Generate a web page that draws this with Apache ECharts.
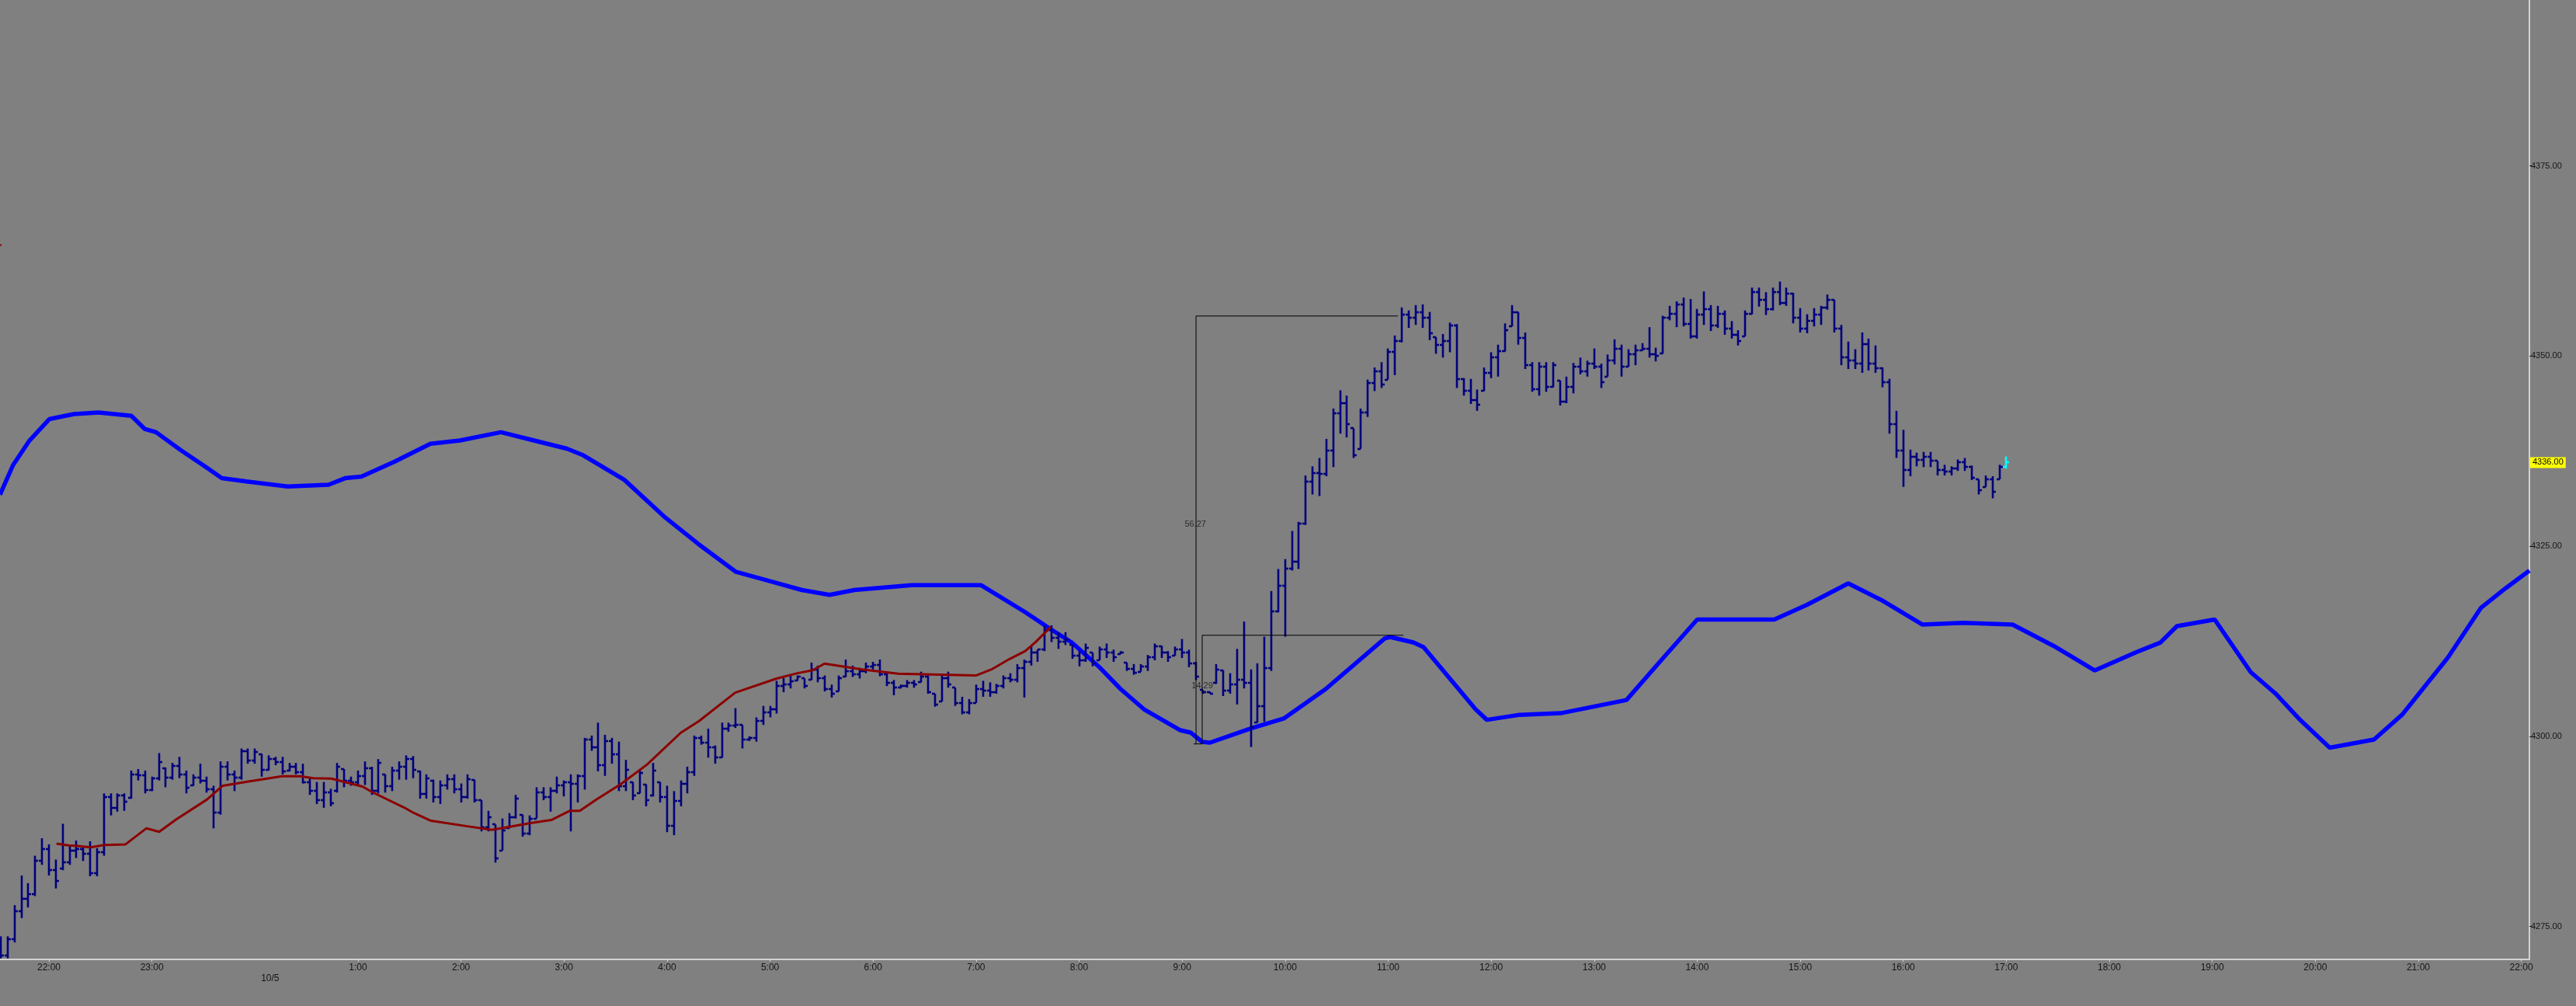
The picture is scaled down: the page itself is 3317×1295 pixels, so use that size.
<!DOCTYPE html>
<html><head><meta charset="utf-8">
<script src="https://cdn.jsdelivr.net/npm/echarts@6.0.0/dist/echarts.min.js"></script>
<style>html,body{margin:0;padding:0;background:#808080;overflow:hidden}#c{width:3317px;height:1295px}</style>
</head><body><div id="c"></div>
<script>
// time in minutes relative to 10/5 00:00 ; first bar 21:32 on 10/4, 4-minute bars
const barStartMin = -148;
const barStepMin = 4;
const opens = [4272.0,4271.2,4273.3,4277.0,4278.6,4279.2,4283.6,4285.2,4282.4,4282.6,
4283.4,4285.0,4285.2,4284.6,4282.0,4284.8,4292.0,4290.6,4292.2,4291.9,
4295.0,4294.9,4292.9,4294.5,4295.8,4294.6,4296.1,4295.0,4293.6,4294.6,
4294.2,4293.0,4290.0,4296.0,4295.0,4294.6,4298.0,4296.8,4297.6,4295.6,
4297.0,4296.6,4295.5,4296.0,4295.3,4294.0,4292.8,4291.6,4292.6,4292.8,
4295.7,4294.2,4294.0,4294.8,4295.8,4292.8,4295.0,4293.4,4295.5,4296.0,
4297.0,4295.4,4292.4,4294.2,4292.0,4293.6,4294.4,4293.0,4292.0,4294.3,
4291.6,4288.0,4288.4,4285.0,4287.9,4289.4,4289.7,4287.2,4289.2,4292.6,
4292.0,4292.8,4293.6,4294.0,4293.8,4294.8,4299.6,4298.6,4296.2,4299.4,
4297.6,4293.4,4294.0,4292.5,4293.7,4292.2,4294.0,4292.0,4288.2,4291.5,
4293.8,4295.3,4299.8,4299.2,4298.6,4297.2,4301.0,4301.4,4301.5,4299.6,
4299.8,4302.0,4303.2,4303.6,4306.6,4306.8,4307.3,4307.6,4307.4,4308.8,
4307.6,4306.2,4305.9,4307.8,4308.6,4308.2,4308.6,4309.2,4309.4,4308.2,
4307.0,4306.4,4306.6,4307.0,4307.1,4307.8,4305.6,4304.6,4307.6,4306.4,
4304.4,4303.2,4304.4,4306.2,4306.0,4305.8,4306.6,4307.6,4307.4,4309.0,
4309.8,4311.0,4311.4,4314.0,4313.0,4312.4,4312.0,4310.6,4310.0,4311.0,
4310.0,4311.4,4311.0,4310.8,4309.7,4308.9,4308.5,4309.2,4310.4,4311.8,
4311.0,4310.6,4311.4,4311.0,4309.6,4306.1,4305.8,4307.0,4308.7,4306.0,
4306.8,4307.4,4307.0,4301.8,4304.0,4309.0,4316.4,4319.8,4322.0,4323.0,
4328.0,4333.5,4334.6,4334.5,4337.6,4342.5,4343.8,4340.5,4337.8,4342.6,
4346.5,4348.0,4346.9,4350.5,4352.0,4355.5,4355.0,4355.8,4355.0,4352.5,
4351.5,4352.0,4354.0,4347.0,4345.4,4344.2,4345.4,4347.8,4349.8,4350.6,
4353.9,4355.8,4352.4,4348.8,4345.6,4348.6,4346.0,4346.8,4344.0,4346.0,
4348.6,4348.0,4349.0,4348.6,4347.3,4349.4,4351.0,4348.6,4350.2,4350.8,
4351.0,4350.2,4350.3,4355.0,4355.6,4356.8,4354.2,4352.6,4355.4,4356.2,
4354.0,4355.6,4353.6,4352.8,4352.6,4355.6,4358.4,4357.4,4356.2,4358.4,
4357.0,4358.2,4355.0,4353.6,4354.6,4355.4,4356.4,4357.4,4353.6,4349.8,
4349.4,4349.0,4351.6,4349.0,4348.4,4346.6,4341.0,4337.6,4335.0,4336.8,
4336.4,4336.8,4336.2,4335.0,4334.8,4335.2,4336.0,4335.4,4333.8,4332.8,
4333.8,4333.8,4335.4];
const highs = [4273.7,4273.7,4277.8,4281.7,4280.7,4284.3,4286.6,4285.8,4283.8,4288.5,
4285.6,4286.3,4285.5,4286.2,4285.3,4292.5,4292.5,4292.5,4292.5,4295.5,
4295.7,4295.5,4294.7,4297.8,4295.9,4296.5,4297.3,4295.5,4295.0,4296.4,
4294.7,4293.5,4296.7,4296.7,4295.5,4298.4,4298.4,4298.4,4297.7,4297.5,
4297.3,4297.3,4296.5,4296.5,4296.4,4294.5,4294.0,4294.0,4293.1,4296.5,
4295.7,4294.7,4295.5,4296.7,4296.0,4297.0,4295.0,4296.0,4296.7,4297.5,
4297.4,4295.5,4295.0,4294.3,4294.2,4295.0,4295.0,4293.8,4295.0,4294.3,
4291.6,4290.2,4288.4,4289.2,4289.9,4292.3,4289.7,4289.6,4293.3,4293.3,
4293.3,4294.7,4294.2,4295.0,4295.0,4299.8,4300.1,4301.8,4300.2,4299.8,
4299.3,4296.9,4294.0,4295.7,4293.7,4296.5,4294.0,4293.5,4292.8,4294.2,
4296.0,4300.1,4300.1,4301.0,4298.8,4301.8,4301.8,4303.7,4301.5,4300.0,
4302.5,4304.0,4304.0,4307.3,4307.7,4308.0,4308.0,4307.6,4309.7,4309.3,
4308.0,4306.8,4308.0,4310.1,4309.3,4309.0,4309.7,4309.8,4310.1,4308.3,
4307.4,4306.8,4307.4,4307.4,4308.5,4308.0,4305.6,4308.0,4308.5,4306.4,
4305.2,4304.9,4306.8,4307.3,4307.1,4306.9,4308.0,4308.3,4309.5,4310.1,
4311.9,4311.4,4314.6,4314.6,4313.7,4313.7,4312.0,4311.2,4312.2,4311.0,
4311.8,4312.2,4311.4,4311.2,4309.7,4309.5,4309.5,4310.7,4312.2,4311.9,
4311.2,4311.8,4312.8,4311.4,4309.8,4306.1,4305.9,4309.5,4308.7,4308.3,
4311.5,4315.1,4308.8,4309.6,4313.1,4319.1,4322.0,4323.3,4327.0,4328.2,
4334.3,4335.5,4336.6,4339.1,4343.1,4345.5,4344.8,4340.5,4343.1,4346.9,
4348.5,4349.2,4351.0,4352.7,4356.4,4356.0,4356.7,4356.8,4355.8,4352.5,
4352.9,4354.4,4354.2,4347.1,4347.0,4345.6,4348.5,4350.5,4351.5,4354.3,
4356.7,4355.8,4353.1,4349.2,4349.2,4349.2,4349.2,4346.8,4347.3,4349.1,
4349.8,4349.4,4351.0,4349.0,4350.2,4352.2,4351.5,4350.9,4351.5,4351.7,
4353.8,4351.1,4355.3,4356.6,4357.2,4357.7,4357.5,4356.2,4358.5,4356.7,
4356.6,4356.0,4354.6,4353.4,4356.0,4359.0,4359.0,4358.4,4359.0,4359.8,
4359.0,4358.3,4356.3,4355.5,4356.3,4356.6,4358.1,4357.4,4354.1,4351.9,
4350.9,4353.1,4352.3,4351.4,4348.5,4347.0,4342.8,4340.3,4337.7,4337.3,
4337.4,4337.4,4336.2,4335.7,4335.5,4336.4,4336.6,4335.6,4333.8,4334.3,
4334.2,4335.7,4336.8];
const lows = [4270.8,4270.8,4272.9,4276.1,4277.5,4279.0,4283.1,4281.7,4280.0,4282.4,
4283.1,4284.0,4283.6,4281.6,4281.6,4284.3,4289.6,4290.1,4290.2,4291.8,
4294.2,4292.5,4292.8,4294.2,4293.3,4294.3,4294.5,4292.5,4293.5,4293.8,
4292.6,4287.9,4289.7,4294.2,4292.8,4294.3,4296.4,4296.4,4294.7,4295.5,
4296.2,4295.0,4295.4,4295.0,4293.8,4292.3,4291.1,4290.6,4290.8,4292.6,
4293.3,4293.5,4293.6,4293.6,4292.3,4292.5,4292.6,4292.8,4294.3,4294.3,
4294.5,4291.8,4291.8,4291.3,4291.1,4293.0,4292.5,4291.3,4291.8,4291.3,
4287.5,4287.5,4283.4,4285.0,4287.9,4289.2,4286.8,4287.0,4289.2,4291.6,
4290.1,4292.5,4292.1,4287.5,4291.3,4293.0,4298.1,4295.4,4294.8,4296.4,
4292.8,4292.8,4291.6,4292.5,4290.8,4292.1,4291.3,4287.4,4287.0,4290.8,
4292.5,4294.8,4298.9,4297.2,4296.4,4297.2,4300.6,4301.1,4298.4,4299.4,
4299.3,4301.5,4302.5,4303.0,4305.8,4306.3,4307.3,4306.3,4307.4,4307.1,
4305.9,4305.1,4305.9,4307.8,4307.8,4307.6,4308.3,4308.8,4307.9,4306.6,
4305.4,4306.3,4306.4,4306.4,4307.1,4305.6,4303.9,4304.6,4306.4,4304.0,
4302.9,4302.9,4304.4,4305.2,4305.2,4305.6,4306.3,4307.1,4307.1,4305.1,
4309.3,4309.8,4311.2,4312.4,4311.5,4312.0,4310.2,4309.2,4309.8,4309.2,
4310.0,4310.3,4309.8,4310.8,4308.6,4308.1,4308.5,4308.6,4310.0,4310.3,
4309.8,4310.6,4310.3,4309.1,4307.4,4305.6,4305.6,4306.9,4305.3,4305.6,
4304.2,4306.3,4298.6,4301.8,4301.9,4308.6,4316.3,4313.1,4321.8,4322.0,
4327.8,4331.8,4331.6,4334.2,4335.4,4339.8,4339.3,4336.6,4337.8,4342.0,
4345.4,4345.8,4346.9,4347.5,4351.8,4353.7,4354.1,4353.7,4352.1,4350.3,
4349.8,4350.5,4345.8,4344.8,4343.7,4342.8,4345.4,4347.1,4347.3,4350.6,
4353.9,4351.5,4348.3,4345.3,4344.8,4345.3,4345.9,4343.5,4343.8,4345.1,
4347.6,4347.3,4348.3,4345.8,4347.3,4348.9,4347.3,4348.6,4348.8,4350.7,
4349.8,4349.3,4350.3,4354.7,4353.8,4353.9,4352.3,4352.3,4354.1,4353.3,
4353.7,4352.8,4352.3,4351.4,4352.6,4355.5,4356.5,4355.4,4356.0,4356.7,
4356.6,4354.3,4353.1,4353.0,4353.9,4354.1,4356.1,4353.1,4348.8,4348.3,
4348.3,4347.8,4348.1,4347.8,4345.9,4339.8,4336.6,4332.8,4334.2,4335.5,
4335.4,4335.4,4334.3,4334.3,4334.3,4334.9,4334.9,4333.7,4331.8,4332.8,
4331.3,4333.8,4335.2];
const closes = [4271.2,4273.3,4277.0,4278.6,4279.2,4283.6,4285.2,4282.4,4281.0,4283.4,
4285.0,4285.2,4284.6,4282.0,4284.8,4292.0,4290.6,4292.2,4291.4,4295.0,
4294.9,4292.9,4294.5,4296.6,4294.6,4296.1,4295.0,4293.2,4294.6,4294.2,
4293.0,4290.0,4296.0,4295.0,4294.6,4298.0,4296.8,4297.9,4295.6,4297.0,
4296.6,4295.4,4296.0,4295.3,4294.0,4292.8,4291.6,4292.6,4291.2,4296.0,
4294.2,4294.0,4294.8,4295.8,4292.8,4296.5,4293.4,4295.5,4296.0,4297.0,
4295.6,4292.4,4294.5,4292.0,4293.6,4294.4,4293.0,4292.0,4294.4,4291.6,
4288.0,4289.4,4284.0,4287.6,4289.4,4291.8,4287.2,4289.2,4292.6,4292.0,
4292.8,4293.6,4294.0,4293.8,4294.8,4299.6,4298.6,4296.2,4299.4,4297.6,
4293.4,4295.6,4292.2,4295.2,4291.6,4295.5,4292.0,4288.2,4291.5,4293.8,
4295.3,4299.8,4299.2,4298.6,4297.2,4301.0,4301.4,4301.5,4299.6,4299.8,
4302.0,4303.2,4303.6,4306.6,4306.8,4307.2,4307.8,4306.6,4308.8,4307.6,
4306.2,4305.6,4307.6,4308.6,4308.2,4308.6,4309.2,4309.4,4308.2,4307.0,
4306.4,4306.6,4307.0,4306.8,4307.8,4305.8,4304.2,4307.6,4306.8,4304.4,
4303.2,4304.4,4306.2,4306.0,4305.8,4306.6,4307.6,4307.4,4309.0,4309.8,
4311.0,4311.4,4314.0,4313.0,4312.4,4312.8,4310.6,4310.0,4311.6,4309.6,
4311.4,4311.0,4310.4,4311.0,4308.9,4308.4,4309.2,4310.4,4311.8,4311.0,
4310.4,4311.4,4311.0,4309.6,4307.8,4305.8,4305.6,4308.8,4306.0,4306.8,
4307.4,4307.0,4301.2,4304.0,4309.0,4316.4,4319.8,4322.0,4323.0,4328.0,
4333.5,4334.6,4334.5,4337.6,4342.5,4343.8,4341.0,4337.0,4342.6,4346.5,
4348.0,4346.3,4350.5,4352.0,4355.5,4355.0,4355.8,4355.0,4353.0,4351.5,
4352.0,4354.0,4347.0,4345.4,4344.2,4343.6,4347.8,4349.8,4350.6,4353.4,
4355.8,4352.4,4348.8,4345.6,4348.6,4346.0,4348.8,4344.0,4346.0,4348.6,
4348.0,4349.0,4348.6,4346.6,4349.4,4351.0,4348.6,4350.2,4350.8,4351.0,
4350.2,4350.0,4355.0,4355.6,4356.8,4354.2,4352.6,4355.4,4356.2,4354.0,
4355.6,4353.6,4352.8,4352.0,4355.6,4358.4,4357.4,4356.2,4358.4,4357.0,
4358.2,4355.0,4353.6,4354.6,4355.4,4356.4,4357.4,4353.6,4349.8,4349.4,
4349.0,4351.6,4349.0,4348.4,4346.6,4341.0,4337.6,4335.0,4336.8,4336.4,
4336.8,4336.2,4335.0,4334.8,4335.2,4336.0,4335.4,4334.0,4332.4,4333.8,
4332.2,4335.4,4336.0];

// thick blue indicator line [minutes, price]
const blueLine = [[-148.5,4331.77],[-140.9,4335.66],[-131.3,4338.90],[-119.8,4341.71],[-105.4,4342.37],
[-91.1,4342.58],[-72.0,4342.15],[-64.3,4340.43],[-57.6,4339.99],[-43.2,4337.62],[-28.9,4335.45],
[-19.3,4333.94],[-5.0,4333.51],[19.0,4332.86],[42.9,4333.08],[52.5,4333.94],[62.0,4334.15],
[81.1,4336.09],[102.2,4338.47],[119.4,4338.90],[143.3,4339.99],[162.5,4338.90],[181.6,4337.83],
[191.2,4336.96],[215.1,4333.73],[239.1,4328.75],[258.2,4325.30],[280.2,4321.62],[301.2,4320.32],
[318.5,4319.24],[334.7,4318.60],[349.1,4319.24],[382.6,4319.89],[401.7,4319.89],[422.8,4319.89],
[448.6,4316.33],[463.5,4314.08],[475.7,4312.35],[492.4,4308.97],[504.2,4306.22],[517.8,4303.56],
[539.0,4300.80],[544.9,4300.50],[551.7,4299.27],[556.2,4299.17],[579.8,4301.01],[599.2,4302.34],
[623.6,4306.22],[658.0,4312.86],[661.2,4313.06],[674.7,4312.35],[680.6,4311.73],[710.9,4303.56],
[717.5,4302.17],[736.6,4302.83],[760.5,4303.04],[798.8,4304.77],[818.0,4309.74],[840.0,4315.36],
[861.1,4315.36],[884.9,4315.36],[904.0,4317.30],[928.0,4320.11],[947.1,4317.94],[971.1,4314.70],
[995.0,4314.92],[1023.7,4314.70],[1047.6,4311.89],[1071.6,4308.66],[1095.5,4311.04],[1109.8,4312.33],
[1119.4,4314.49],[1141.4,4315.36],[1162.4,4308.44],[1176.8,4305.63],[1191.1,4302.17],[1208.4,4298.50],
[1234.2,4299.58],[1250.5,4302.83],[1277.3,4310.38],[1296.4,4316.87],[1310.7,4319.45],[1324.7,4321.8]];

// dark red line [minutes, price]
const redLine = [[-115.6,4285.90],[-108.6,4285.65],[-103.3,4285.58],[-95.7,4285.41],[-88.2,4285.70],
[-75.4,4285.80],[-63.3,4287.90],[-55.8,4287.45],[-46.0,4289.06],[-27.9,4291.70],[-18.8,4293.50],
[-3.8,4294.06],[15.8,4294.75],[26.4,4294.75],[33.9,4294.50],[44.5,4294.44],[62.6,4293.40],
[68.6,4292.63],[86.7,4290.66],[92.7,4289.90],[102.5,4288.90],[122.9,4288.20],[138.0,4287.70],
[160.6,4288.60],[172.6,4289.00],[183.2,4290.20],[189.2,4290.20],[198.3,4291.60],[213.3,4293.75],
[228.4,4296.30],[248.0,4300.47],[258.6,4302.00],[279.7,4305.74],[303.8,4307.60],[315.9,4308.30],
[324.9,4308.70],[331.7,4309.56],[353.6,4308.80],[374.7,4308.23],[419.9,4308.00],[429.0,4308.80],
[439.5,4310.17],[448.6,4311.20],[454.6,4312.38],[463.6,4314.40]];
// tiny dark-red stub at the left edge
const redStub = [[-148.5,4364.6],[-147.6,4364.6]];

// measurement annotation (price range tool)
const measureBase = 4299.0;
const measureTop = 4355.27;
const measureMid = 4313.29;
const measureTimes = [546.7, 548.1, 551.7, 665.7, 668.9];
const measureLabels = [['56.27', 547.7, 4327.87], ['14.29', 551.7, 4306.6]];

const yTickValues = [4275, 4300, 4325, 4350, 4375];
const xHourValues = [-120,-60,0,60,120,180,240,300,360,420,480,540,600,660,720,780,840,900,960,1020,1080,1140,1200,1260,1320];
const dateLabelText = '10/5';
const lastPrice = 4336.00;

const xMin = -148.5, xMax = 1324.7;
const yMin = 4270.67, yMax = 4396.82;

const bars = [];
for (let i = 0; i < highs.length; i++) {
  bars.push([barStartMin + i * barStepMin, opens[i], highs[i], lows[i], closes[i]]);
}
const lastIdx = bars.length - 1;

const chart = echarts.init(document.getElementById('c'), null, {renderer: 'canvas'});

function renderBar(params, api) {
  const t = api.value(0);
  const pO = api.coord([t, api.value(1)]);
  const pH = api.coord([t, api.value(2)]);
  const pL = api.coord([t, api.value(3)]);
  const pC = api.coord([t, api.value(4)]);
  const x = Math.round(pH[0]);
  const color = params.dataIndex === lastIdx ? '#00ffff' : '#00007f';
  let y1 = pH[1], y2 = pL[1];
  if (y2 - y1 < 2) { y1 -= 1; y2 += 1; }
  const st = {stroke: color, lineWidth: 2.6};
  return {type: 'group', children: [
    {type: 'line', shape: {x1: x, y1: y1, x2: x, y2: y2}, style: st},
    {type: 'line', shape: {x1: x - 4, y1: Math.round(pO[1]), x2: x, y2: Math.round(pO[1])}, style: st},
    {type: 'line', shape: {x1: x, y1: Math.round(pC[1]), x2: x + 4, y2: Math.round(pC[1])}, style: st}
  ]};
}

function hourLabel(v) {
  if (v === 0) return '{d|' + dateLabelText + '}';
  let h = Math.round(v / 60);
  h = ((h % 24) + 24) % 24;
  return h + ':00';
}

const axisGray = '#d2d2d2';
const textCol = '#141414';

chart.setOption({
  animation: false,
  backgroundColor: '#808080',
  grid: {left: 0, right: 60, top: 0, bottom: 60, containLabel: false},
  xAxis: {
    type: 'value', min: xMin, max: xMax,
    axisLine: {show: true, onZero: false, lineStyle: {color: axisGray, width: 2}},
    axisTick: {show: true, length: 3, lineStyle: {color: axisGray}, customValues: xHourValues.filter(v => v !== 0)},
    splitLine: {show: false},
    axisLabel: {
      customValues: xHourValues, formatter: hourLabel, margin: 5,
      color: textCol, fontSize: 12, fontFamily: 'Liberation Sans',
      rich: {d: {color: textCol, fontSize: 12, fontFamily: 'Liberation Sans', padding: [14, 0, 0, 39]}}
    }
  },
  yAxis: {
    type: 'value', position: 'right', min: yMin, max: yMax, scale: true,
    axisLine: {show: true, onZero: false, lineStyle: {color: axisGray, width: 2}},
    axisTick: {show: true, length: 3, lineStyle: {color: '#202020'}, customValues: yTickValues},
    splitLine: {show: false},
    axisLabel: {
      customValues: yTickValues, formatter: v => v.toFixed(2), margin: 2,
      color: textCol, fontSize: 11, fontFamily: 'Liberation Sans'
    }
  },
  series: [
    {
      type: 'line', data: blueLine, showSymbol: false, smooth: false, z: 2,
      lineStyle: {color: '#0000ff', width: 5.5}, silent: true
    },
    {
      type: 'custom', data: bars, renderItem: renderBar, z: 3,
      encode: {x: 0, y: [1, 2, 3, 4]}, silent: true,
      markLine: {
        silent: true, symbol: ['none', 'none'],
        lineStyle: {color: 'rgba(0,0,0,0)', width: 1, type: 'solid'},
        data: [{yAxis: lastPrice}],
        label: {show: true, position: 'end', distance: 1, formatter: lastPrice.toFixed(2),
          backgroundColor: '#ffff00', color: '#000', padding: [2, 3, 1, 3], fontSize: 11, fontFamily: 'Liberation Sans'}
      }
    },
    {
      type: 'line', data: redLine, showSymbol: false, z: 4,
      lineStyle: {color: '#8b0000', width: 3}, silent: true
    },
    {
      type: 'line', data: redStub, showSymbol: false, z: 4,
      lineStyle: {color: '#8b0000', width: 2}, silent: true
    },
    {
      type: 'line', showSymbol: false, z: 5, silent: true,
      data: [[measureTimes[1], measureBase], [measureTimes[1], measureTop], [measureTimes[3], measureTop]],
      lineStyle: {color: '#000', width: 1}
    },
    {
      type: 'line', showSymbol: false, z: 5, silent: true,
      data: [[measureTimes[2], measureBase], [measureTimes[2], measureMid], [measureTimes[4], measureMid]],
      lineStyle: {color: '#000', width: 1}
    },
    {
      type: 'line', showSymbol: false, z: 5, silent: true,
      data: [[measureTimes[0], measureBase], [measureTimes[2], measureBase]],
      lineStyle: {color: '#000', width: 1}
    },
    {
      type: 'scatter', symbolSize: 0, z: 6, silent: true,
      data: measureLabels.map(m => ({name: m[0], value: [m[1], m[2]]})),
      label: {show: true, position: 'inside', formatter: '{b}', color: '#111', fontSize: 11, fontFamily: 'Liberation Sans'}
    }
  ]
});
</script>
</body></html>
